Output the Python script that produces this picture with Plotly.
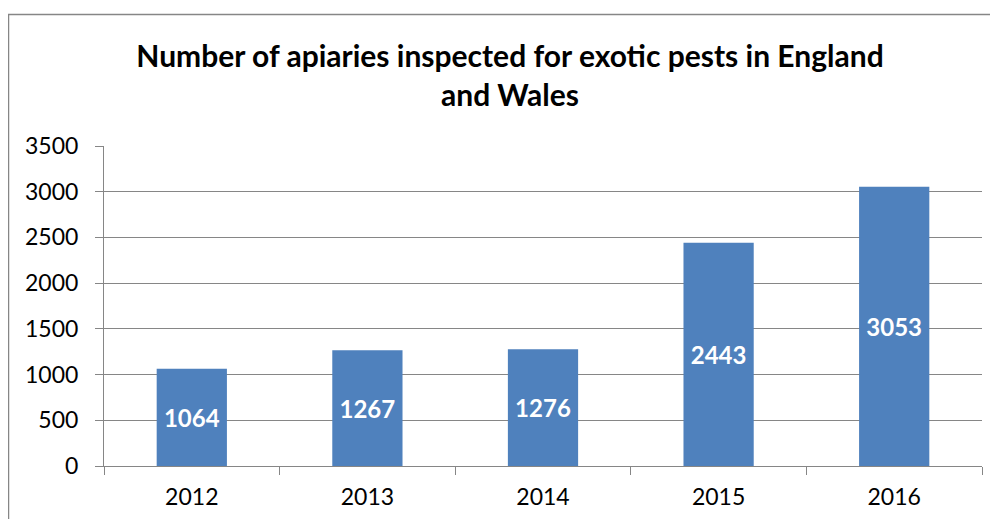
import plotly.graph_objects as go

years = ["2012", "2013", "2014", "2015", "2016"]
inspected = [1064, 1267, 1276, 2443, 3053]
y_ticks = [0, 500, 1000, 1500, 2000, 2500, 3000, 3500]

grey = "#868686"
font_family = "Lato, 'Open Sans', sans-serif"

fig = go.Figure(go.Bar(
    x=years, y=inspected,
    marker=dict(color="#4F81BD", line=dict(width=0)),
    text=[str(v) for v in inspected],
    textposition="inside", insidetextanchor="middle",
    textfont=dict(color="white", size=24, family=font_family, weight="bold"),
    textangle=0,
))

# the page body has an 8px margin, so the figure starts at (8, 8) in the window
OFF = 8
W, H = 990, 511
# plot area in window px: left 104, right 982, top 146, bottom 466
ml, mt = 104 - OFF, 146 - OFF
mr = (OFF + W) - 982
mb = (OFF + H) - 466
pw, ph = W - ml - mr, H - mt - mb

def px_x(x):
    return (x - OFF - ml) / pw

def px_y(y):
    return (OFF + H - mb - y) / ph

fig.update_layout(
    width=W, height=H,
    margin=dict(l=ml, r=mr, t=mt, b=mb),
    paper_bgcolor="white", plot_bgcolor="white",
    bargap=0.6,
    showlegend=False,
    font=dict(family=font_family, color="black", size=23),
    title=dict(
        text="<b>Number of apiaries inspected for exotic pests in England<br>and Wales</b>",
        xref="container", yref="container",
        x=(510 - OFF) / W, xanchor="center", y=1 - 59 / H, yanchor="middle",
        font=dict(size=30, family=font_family),
    ),
    xaxis=dict(
        type="category", showgrid=False, showline=True, linecolor=grey, linewidth=1,
        ticks="outside", tickson="boundaries", ticklen=8, tickcolor=grey,
        ticklabelstandoff=10, automargin=False,
    ),
    yaxis=dict(
        range=[0, 3500], tickvals=y_ticks, showgrid=True, gridcolor=grey, gridwidth=1,
        showline=True, linecolor=grey, linewidth=1, zeroline=False,
        ticks="outside", ticklen=8, tickcolor=grey, ticklabelstandoff=12,
        automargin=False,
    ),
    shapes=[
        dict(type="line", xref="paper", yref="paper",
             x0=px_x(8), x1=px_x(1000), y0=px_y(14.5), y1=px_y(14.5),
             line=dict(color=grey, width=1.5)),
        dict(type="line", xref="paper", yref="paper",
             x0=px_x(8.5), x1=px_x(8.5), y0=px_y(14.5), y1=px_y(530),
             line=dict(color=grey, width=1.5)),
    ],
)

fig.write_html("out.html")
